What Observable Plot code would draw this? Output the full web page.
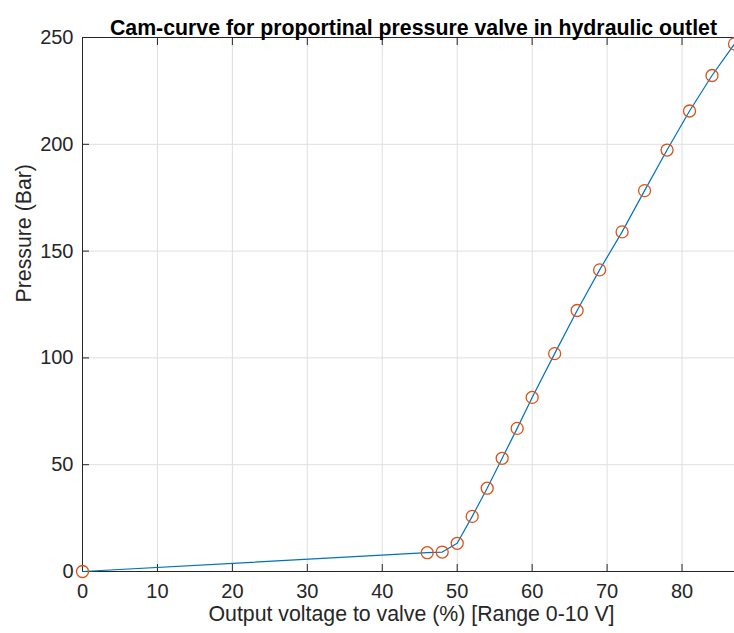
<!DOCTYPE html>
<html>
<head>
<meta charset="utf-8">
<script src="https://cdn.jsdelivr.net/npm/d3@7"></script>
<script src="https://cdn.jsdelivr.net/npm/@observablehq/plot@0.6"></script>
<style>
  html, body { margin: 0; padding: 0; background: #fff; }
  #chart { width: 734px; height: 633px; overflow: hidden; }
</style>
</head>
<body>
<div id="chart"></div>
<script>
const title = "Cam-curve for proportinal pressure valve in hydraulic outlet";
const xLabel = "Output voltage to valve (%) [Range 0-10 V]";
const yLabel = "Pressure (Bar)";

const voltage  = [0, 46, 48, 50, 52, 54, 56, 58, 60, 63, 66, 69, 72, 75, 78, 81, 84, 87];
const pressure = [0, 8.8, 9.1, 13.2, 25.8, 39, 53, 67, 81.5, 102, 122.2, 141.2, 159, 178.3, 197.3, 215.6, 232.2, 247];

const xTicks = [0, 10, 20, 30, 40, 50, 60, 70, 80];
const yTicks = [0, 50, 100, 150, 200, 250];
const xDomain = [0, 87];
const yDomain = [0, 250];

const data = voltage.map((v, i) => ({x: v, y: pressure[i]}));

const axisColor = "#262626";
const gridColor = "#dfdfdf";

const chart = Plot.plot({
  width: 734,
  height: 633,
  marginLeft: 82,
  marginRight: 0,
  marginTop: 37,
  marginBottom: 62,
  style: {fontFamily: "'Liberation Sans', Arial, Helvetica, sans-serif", fontSize: "20px", color: axisColor, background: "#fff"},
  x: {domain: xDomain, ticks: xTicks},
  y: {domain: yDomain, ticks: yTicks},
  marks: [
    Plot.gridX(xTicks, {stroke: gridColor, strokeOpacity: 1}),
    Plot.gridY(yTicks, {stroke: gridColor, strokeOpacity: 1}),
    Plot.ruleY([yDomain[0]], {stroke: axisColor}),
    Plot.ruleY([yDomain[1]], {stroke: axisColor}),
    Plot.ruleX([xDomain[0]], {stroke: axisColor}),
    Plot.axisX(xTicks, {anchor: "bottom", tickSize: -7, fill: "none", stroke: axisColor, label: null}),
    Plot.axisX(xTicks, {anchor: "top", tickSize: -7, fill: "none", stroke: axisColor, label: null}),
    Plot.axisY(yTicks, {anchor: "left", tickSize: -7, fill: "none", stroke: axisColor, label: null}),
    Plot.axisX(xTicks, {anchor: "bottom", tickSize: 0, tickPadding: 12, fill: axisColor, label: null}),
    Plot.axisY(yTicks, {anchor: "left", tickSize: 0, tickPadding: 9, fill: axisColor, label: null}),
    Plot.line(data, {x: "x", y: "y", stroke: "#0072BD", strokeWidth: 1.2}),
    Plot.dot(data, {x: "x", y: "y", r: 6, stroke: "#D95319", strokeWidth: 1.3, fill: "none"}),
    Plot.text([title], {text: d => d, frameAnchor: "top", dx: 5, dy: -18, fontWeight: "bold", fontSize: 21.3, fill: "#000"}),
    Plot.text([xLabel], {text: d => d, frameAnchor: "bottom", dx: 3, dy: 49, fontSize: 21.3, fill: axisColor}),
    Plot.text([yLabel], {text: d => d, frameAnchor: "left", dx: -58, dy: -2, rotate: -90, fontSize: 21.3, fill: axisColor})
  ]
});
document.getElementById("chart").appendChild(chart);
</script>
</body>
</html>
